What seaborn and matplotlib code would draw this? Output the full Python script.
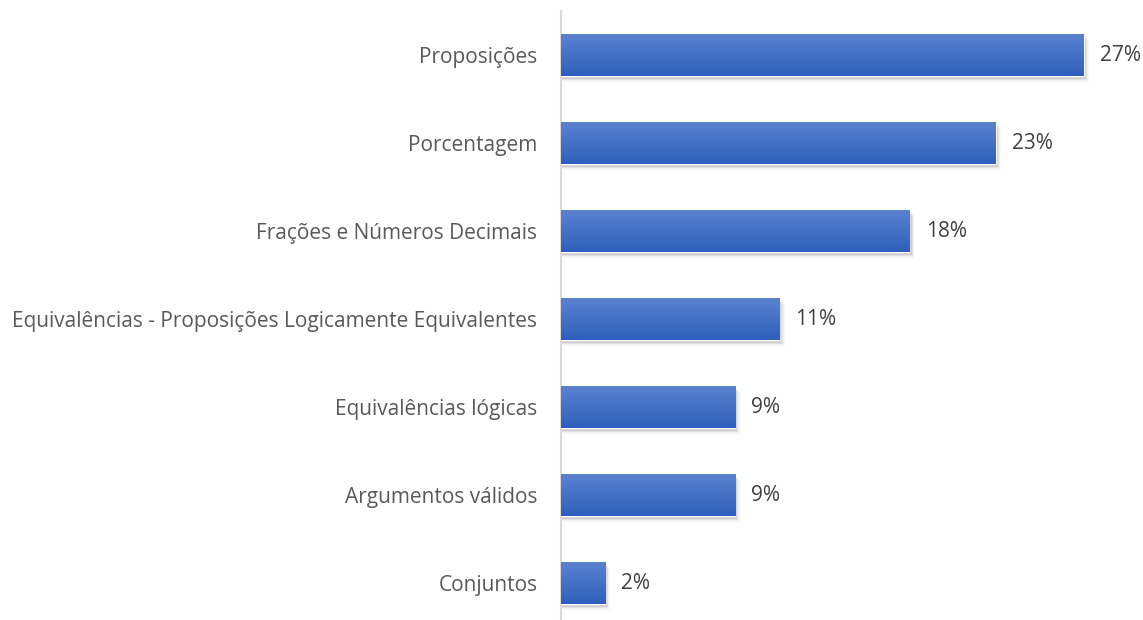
import numpy as np
import pandas as pd
import seaborn as sns
import matplotlib.pyplot as plt
from matplotlib.colors import LinearSegmentedColormap

# data (share of questions per topic, 44 questions total)
topics = [
    "Proposições",
    "Porcentagem",
    "Frações e Números Decimais",
    "Equivalências - Proposições Logicamente Equivalentes",
    "Equivalências lógicas",
    "Argumentos válidos",
    "Conjuntos",
]
shares = [27.3, 22.7, 18.2, 11.4, 9.1, 9.1, 2.3]
labels = ["27%", "23%", "18%", "11%", "9%", "9%", "2%"]

df = pd.DataFrame({"topic": topics, "share": shares})

sns.set_theme(style="white")
plt.rcParams["font.family"] = ["Open Sans", "DejaVu Sans"]
text_col = "#595959"

fig = plt.figure(figsize=(11.43, 6.2), dpi=100)
ax = fig.add_axes([561 / 1143, 0.0, 1 - 561 / 1143, 1 - 11 / 620])

sns.barplot(data=df, x="share", y="topic", color="#4472c4", width=0.48,
            saturation=1, ax=ax, zorder=3)

ax.set_xlim(0, 30.4)
ax.set_ylim(6.42, -0.5)

# gradient fill + soft shadow for each bar
grad = LinearSegmentedColormap.from_list("g", ["#5b82d1", "#4472c4", "#2f5fbc"])
g = np.linspace(0, 1, 64).reshape(-1, 1)
for p, lab in zip(ax.patches, labels):
    x0, y0 = p.get_x(), p.get_y()
    w, h = p.get_width(), p.get_height()
    for k, a in enumerate([0.09, 0.06, 0.035, 0.02]):
        sh = plt.Rectangle((x0 + 0.05, y0 + 0.03 + k * 0.015), w + 0.06 * (k + 1), h,
                           color="black", alpha=a, lw=0, zorder=2)
        ax.add_patch(sh)
    im = ax.imshow(g, cmap=grad, aspect="auto", extent=(x0, x0 + w, y0 + h, y0),
                   zorder=4)
    im.set_clip_path(p)
    ax.text(x0 + w + 0.85, y0 + h / 2, lab, va="center", ha="left",
            fontsize=15, color="#404040")

ax.set_xlim(0, 30.4)
ax.set_ylim(6.42, -0.5)
ax.set_xlabel("")
ax.set_ylabel("")
ax.set_xticks([])
ax.tick_params(axis="y", length=0, pad=17, labelsize=15, labelcolor=text_col)
for s in ["top", "right", "bottom"]:
    ax.spines[s].set_visible(False)
ax.spines["left"].set_color("#d9d9d9")
ax.spines["left"].set_linewidth(1.5)

fig.savefig("out.png", dpi=100, facecolor="white")
